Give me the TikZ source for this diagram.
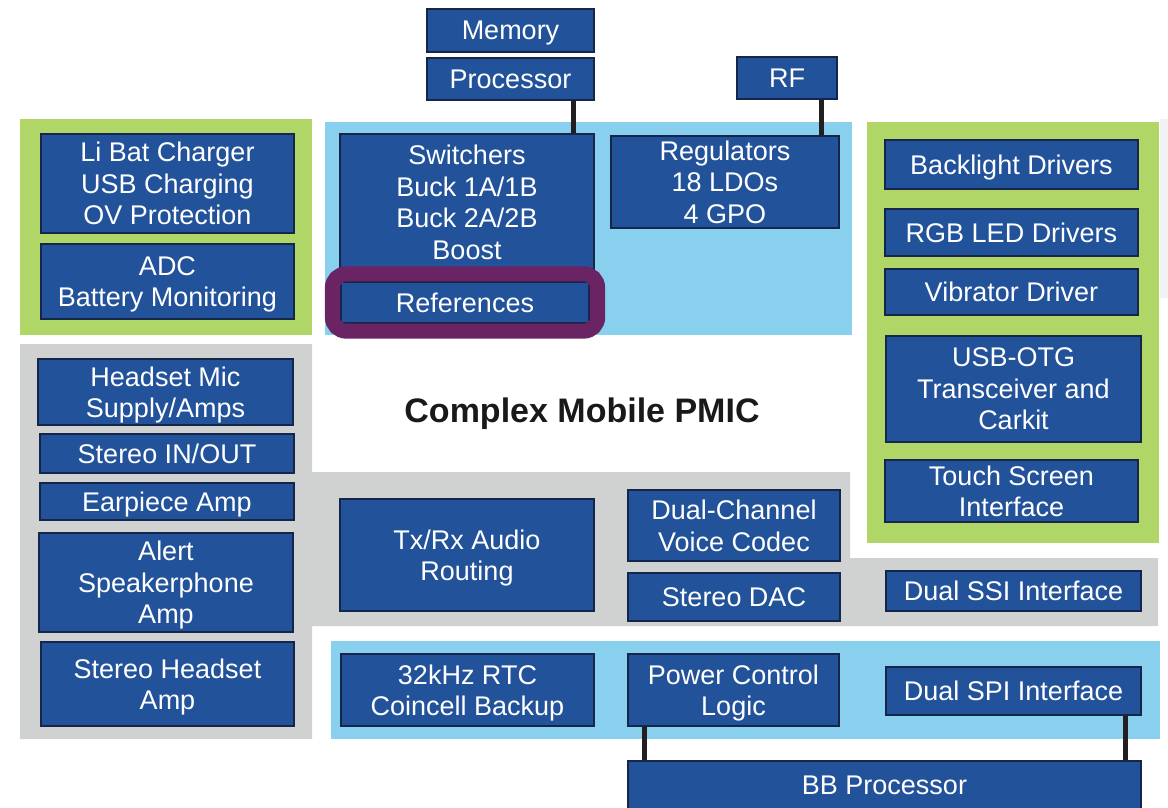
\documentclass[tikz,border=0pt]{standalone}
\usepackage{fontspec}
\setmainfont{Liberation Sans}
\usepackage{xcolor}
\usepackage{tikz}

\definecolor{boxblue}{RGB}{34,82,154}
\definecolor{boxedge}{RGB}{22,38,74}
\definecolor{skyblue}{RGB}{137,208,238}
\definecolor{leafgreen}{RGB}{177,214,104}
\definecolor{panelgray}{RGB}{208,210,209}
\definecolor{ringpurple}{RGB}{106,36,99}
\definecolor{wirecol}{RGB}{35,31,32}

\begin{document}
\begin{tikzpicture}[x=1pt,y=-1pt,
    blk/.style={draw=boxedge, line width=1.3pt, fill=boxblue, text=white,
      font=\fontsize{27}{31.5}\selectfont, align=center, inner sep=0pt, text depth=0pt},
    link/.style={draw=wirecol, line width=5pt},
    ring/.style={draw=ringpurple, line width=15pt, rounded corners=14pt}]
            \useasboundingbox (0,0) rectangle (1168,807);

            \fill[leafgreen] (20,119) rectangle (312,335);
            \fill[skyblue] (325,122) rectangle (852,335);
            \fill[leafgreen] (867,122) rectangle (1159,543);
            \fill[black!5] (1160,119) rectangle (1168,298);
            \fill[panelgray] (20,344) -- (312,344) -- (312,472) -- (850,472) -- (850,558)
              -- (1158,558) -- (1158,626) -- (312,626) -- (312,739) -- (20,739) -- cycle;
            \fill[skyblue] (331,641) rectangle (1160,739);

            \node[blk, minimum width=167pt, minimum height=43pt] (mem) at (510.5,30.5) {Memory};
            \node[blk, minimum width=167pt, minimum height=42pt] (proc) at (510.5,79) {Processor};
            \node[blk, minimum width=100pt, minimum height=42pt] (rf) at (787,78) {RF};

            \node[blk, minimum width=253pt, minimum height=99pt] (libat) at (167.5,183.5) {Li Bat Charger\\USB Charging\\OV Protection};
            \node[blk, minimum width=253pt, minimum height=75pt] (adc) at (167.5,281.5) {ADC\\Battery Monitoring};

            \node[blk, minimum width=254pt, minimum height=136pt] (sw) at (467,202) {Switchers\\Buck 1A/1B\\Buck 2A/2B\\Boost};
            \node[blk, minimum width=248pt, minimum height=41pt] (ref) at (465,302.5) {References};
            \node[blk, minimum width=228pt, minimum height=92pt] (reg) at (725,182) {Regulators\\18 LDOs\\4 GPO};
            \draw[ring] ([shift={(-8pt,7.5pt)}]ref.north west) rectangle ([shift={(8pt,-7.5pt)}]ref.south east);

            \node[blk, minimum width=253pt, minimum height=49pt] (back) at (1011.5,164.5) {Backlight Drivers};
            \node[blk, minimum width=253pt, minimum height=47pt] (rgb) at (1011.5,232.5) {RGB LED Drivers};
            \node[blk, minimum width=253pt, minimum height=46pt] (vib) at (1011.5,292) {Vibrator Driver};
            \node[blk, minimum width=255pt, minimum height=106pt] (otg) at (1013.5,389) {USB-OTG\\Transceiver and\\Carkit};
            \node[blk, minimum width=253pt, minimum height=62pt] (touch) at (1011.5,491) {Touch Screen\\Interface};

            \node[font=\fontsize{34}{40}\selectfont\bfseries, text=black!90, text depth=0pt] (title) at (582,410) {Complex Mobile PMIC};

            \node[blk, minimum width=255pt, minimum height=66pt] (mic) at (165.5,392) {Headset Mic\\Supply/Amps};
            \node[blk, minimum width=254pt, minimum height=39pt] (stio) at (167,453.5) {Stereo IN/OUT};
            \node[blk, minimum width=254pt, minimum height=37pt] (ear) at (167,501.5) {Earpiece Amp};
            \node[blk, minimum width=254pt, minimum height=99pt] (alert) at (166,582.5) {Alert\\Speakerphone\\Amp};
            \node[blk, minimum width=253pt, minimum height=84pt] (hsamp) at (167.5,684) {Stereo Headset\\Amp};

            \node[blk, minimum width=254pt, minimum height=112pt] (txrx) at (467,555) {Tx/Rx Audio\\Routing};
            \node[blk, minimum width=212pt, minimum height=71pt] (codec) at (734,525.5) {Dual-Channel\\Voice Codec};
            \node[blk, minimum width=212pt, minimum height=48pt] (dac) at (734,597) {Stereo DAC};
            \node[blk, minimum width=255pt, minimum height=40pt] (ssi) at (1013.5,591) {Dual SSI Interface};

            \node[blk, minimum width=253pt, minimum height=72pt] (rtc) at (467.5,690) {32kHz RTC\\Coincell Backup};
            \node[blk, minimum width=211pt, minimum height=72pt] (pcl) at (733.5,690) {Power Control\\Logic};
            \node[blk, minimum width=255pt, minimum height=48pt] (spi) at (1013.5,691) {Dual SPI Interface};
            \node[blk, minimum width=513pt, minimum height=49pt] (bb) at (884.5,785.5) {BB Processor};

            \draw[link] ([xshift=-21pt]proc.south east) -- ([xshift=-21pt]sw.north east);
            \draw[link] ([xshift=-16pt]rf.south east) -- ([xshift=-18pt]reg.north east);
            \draw[link] ([xshift=17pt]pcl.south west) -- ([xshift=17pt]bb.north west);
            \draw[link] ([xshift=-16pt]spi.south east) -- ([xshift=-16pt]bb.north east);
          \end{tikzpicture}
\end{document}
